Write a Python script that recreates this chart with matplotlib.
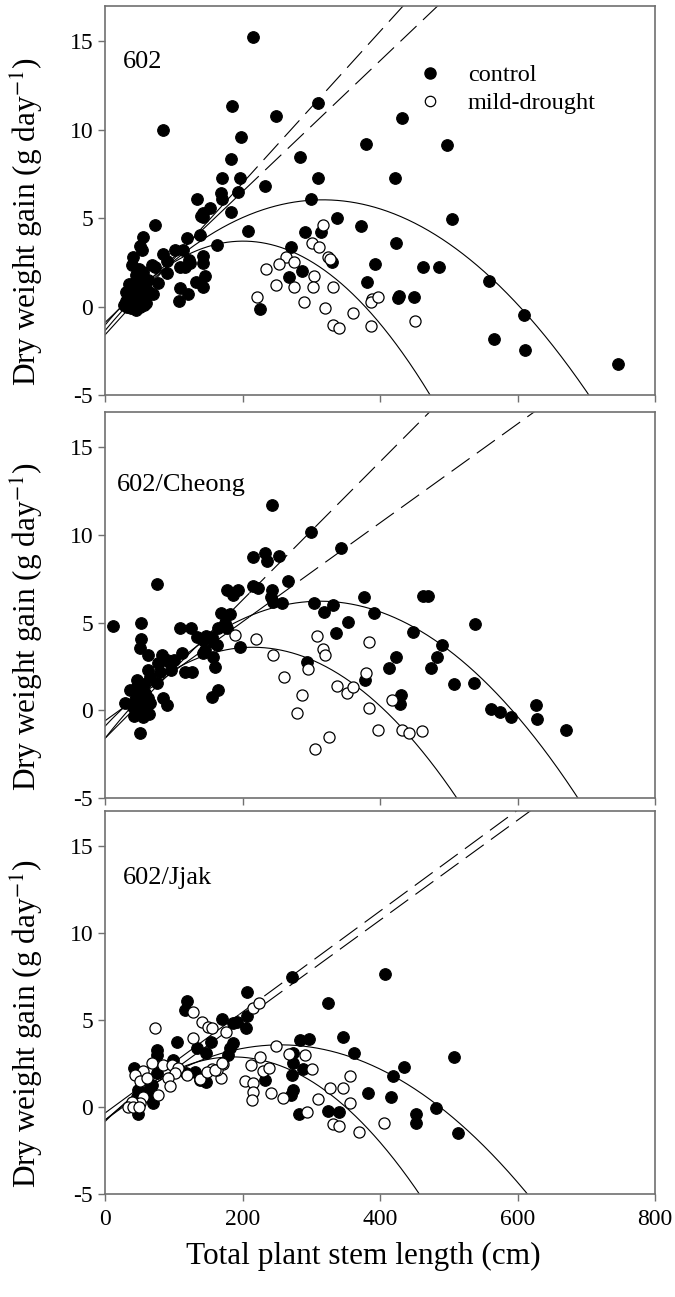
import numpy as np
import matplotlib
matplotlib.use("Agg")
import matplotlib.pyplot as plt
from matplotlib.lines import Line2D

plt.rcParams['font.family'] = ['Liberation Serif', 'DejaVu Serif']
plt.rcParams['mathtext.fontset'] = 'stix'
plt.rcParams['axes.unicode_minus'] = False

# ---- panel 602 ----
ctrl_602 = [(215, 15.25), (185, 11.35), (249, 10.8), (84, 10.0), (310, 11.5), (198, 9.6), (380, 9.2),
            (183, 8.35), (284, 8.46), (170, 7.3), (196, 7.3), (310, 7.27), (233, 6.8), (169, 6.4),
            (194, 6.5), (134, 6.1), (299, 6.1), (153, 5.6), (183, 5.35), (337, 5.0), (143, 5.07),
            (432, 10.67), (497, 9.14), (422, 7.27), (505, 4.95), (373, 4.57), (291, 4.2), (314, 4.2),
            (423, 3.6), (330, 2.5), (392, 2.4), (286, 2.0), (381, 1.4), (463, 2.24), (486, 2.24),
            (559, 1.45), (426, 0.5), (428, 0.62), (449, 0.55), (609, -0.48), (566, -1.83), (611, -2.45),
            (746, -3.25), (208, 4.28), (270, 3.37), (163, 3.48), (268, 1.67), (225, -0.14),
            (170, 6.1), (139, 5.1), (143, 5.3), (73, 4.6), (138, 4.05), (119, 3.9), (55, 3.94),
            (51, 3.4), (54, 3.2), (84, 3.0), (102, 3.2), (113, 3.2), (41, 2.8), (39, 2.35), (68, 2.35),
            (73, 2.24), (90, 2.58), (122, 2.64), (124, 2.47), (143, 2.86), (143, 2.47), (109, 2.24),
            (116, 2.24), (90, 1.9), (77, 1.33), (145, 1.73), (132, 1.4), (143, 1.1), (70, 0.7),
            (109, 1.05), (121, 0.7), (108, 0.3), (55, 1.96), (54, 1.67),
            (28, 0.1), (30, 0.3), (32, 0.0), (33, 0.6), (35, 0.2), (36, 0.9), (38, -0.1), (38, 0.4),
            (40, 1.1), (41, 0.7), (42, 0.1), (43, 1.4), (44, 0.4), (45, -0.2), (46, 0.9), (47, 0.2),
            (48, 1.2), (50, 0.5), (51, 0.0), (52, 0.8), (54, 0.3), (55, 1.0), (57, 0.1), (58, 0.6),
            (60, 0.2), (62, 0.9), (35, 1.3), (30, 0.8), (45, 1.8), (50, 2.1), (62, 1.5)]
drought_602 = [(317, 4.6), (301, 3.6), (311, 3.37), (325, 2.8), (327, 2.7), (263, 2.8), (253, 2.4),
               (275, 2.5), (234, 2.1), (304, 1.73), (248, 1.22), (275, 1.1), (303, 1.1), (331, 1.1),
               (221, 0.54), (289, 0.26), (320, -0.08), (361, -0.36), (388, 0.43), (387, 0.26),
               (397, 0.54), (331, -1.05), (340, -1.2), (387, -1.1), (451, -0.8)]

# ---- panel 602/Cheong ----
ctrl_cheong = [(243, 11.7), (300, 10.16), (343, 9.25), (215, 8.73), (233, 8.96), (235, 8.5), (253, 8.8),
               (266, 7.36), (75, 7.2), (177, 6.85), (186, 6.57), (194, 6.85), (215, 7.08), (223, 6.97),
               (243, 6.85), (241, 6.45), (244, 6.17), (257, 6.1), (304, 6.1), (319, 5.6), (332, 6.0),
               (377, 6.45), (391, 5.54), (353, 5.03), (336, 4.4), (12, 4.8), (53, 4.97), (109, 4.7),
               (125, 4.7), (169, 5.54), (182, 5.48), (165, 4.7), (175, 4.97), (177, 4.7), (134, 4.17),
               (147, 4.23), (156, 4.17), (53, 4.06), (51, 3.55), (63, 3.15), (83, 3.15), (85, 2.86),
               (77, 2.7), (95, 2.7), (100, 2.86), (112, 3.26), (143, 4.0), (145, 3.43), (157, 3.9),
               (163, 3.7), (143, 3.26), (157, 3.03), (160, 2.46), (196, 3.6), (116, 2.18), (126, 2.18),
               (90, 2.86), (96, 2.3), (63, 2.3), (65, 1.9), (80, 2.18), (75, 1.55), (36, 1.15),
               (46, 1.72), (53, 1.32), (155, 0.75), (165, 1.15), (29, 0.4), (84, 0.7), (90, 0.3),
               (51, -1.3), (463, 6.5), (470, 6.5), (538, 4.9), (448, 4.46), (490, 3.7), (423, 3.03),
               (413, 2.4), (483, 3.03), (474, 2.4), (508, 1.5), (537, 1.55), (294, 2.75), (378, 1.72),
               (431, 0.87), (429, 0.36), (561, 0.07), (575, -0.1), (591, -0.38), (627, 0.3),
               (628, -0.5), (670, -1.13),
               (40, 0.2), (42, -0.3), (44, 0.6), (45, 0.1), (47, 1.0), (48, -0.1), (50, 0.4), (52, 0.8),
               (53, 0.0), (55, -0.4), (56, 0.5), (58, 1.0), (60, 0.2), (62, 0.7), (64, -0.2), (66, 0.4),
               (46, 1.3), (57, 1.5)]
drought_cheong = [(189, 4.3), (220, 4.06), (308, 4.23), (244, 3.15), (317, 3.5), (320, 3.15), (384, 3.9),
                  (295, 2.35), (260, 1.9), (380, 2.12), (337, 1.38), (352, 0.98), (361, 1.32), (287, 0.87),
                  (384, 0.13), (279, -0.16), (397, -1.13), (326, -1.5), (305, -2.2), (418, 0.58),
                  (432, -1.13), (442, -1.3), (461, -1.2)]

# ---- panel 602/Jjak ----
ctrl_jjak = [(272, 7.46), (206, 6.6), (119, 6.08), (116, 5.57), (324, 5.97), (170, 5.05), (186, 4.82),
             (192, 4.88), (206, 5.2), (205, 4.53), (105, 3.73), (154, 3.73), (134, 3.39), (75, 3.27),
             (75, 2.98), (147, 3.1), (186, 3.67), (182, 3.39), (179, 2.98), (99, 2.7), (284, 3.85),
             (297, 3.9), (346, 4.02), (362, 3.1), (273, 3.1), (273, 2.52), (288, 2.18), (272, 1.84),
             (233, 1.55), (273, 0.97), (271, 0.69), (42, 2.24), (45, 1.95), (75, 1.95), (118, 1.95),
             (131, 2.0), (138, 1.55), (147, 1.43), (65, 1.15), (70, 0.23), (48, 0.97), (46, 0.57),
             (48, -0.4), (282, -0.4), (324, -0.23), (340, -0.29), (382, 0.8), (407, 7.64), (508, 2.87),
             (435, 2.3), (419, 1.78), (416, 0.57), (481, -0.06), (452, -0.4), (452, -0.92), (513, -1.5),
             (68, 1.26), (65, 0.97), (63, 0.57)]
drought_jjak = [(73, 4.53), (128, 5.45), (141, 4.88), (150, 4.59), (155, 4.53), (176, 4.3), (215, 5.68),
                (224, 5.97), (128, 3.96), (249, 3.5), (267, 3.04), (291, 2.98), (225, 2.87), (212, 2.4),
                (230, 2.07), (239, 2.24), (204, 1.49), (215, 1.38), (215, 0.86), (214, 0.4), (241, 0.8),
                (259, 0.51), (301, 2.18), (356, 1.78), (327, 1.09), (346, 1.09), (310, 0.46), (357, 0.23),
                (294, -0.29), (332, -0.98), (340, -1.09), (370, -1.44), (406, -0.92), (171, 2.47),
                (169, 1.66), (155, 2.18), (163, 2.12), (138, 1.6), (68, 2.52), (84, 2.4), (55, 2.07),
                (44, 1.84), (51, 1.49), (61, 1.66), (97, 2.4), (106, 2.24), (102, 1.95), (92, 1.66),
                (95, 1.2), (77, 0.69), (55, 0.57), (51, 0.23), (39, 0.29), (33, 0.0), (41, 0.0), (49, 0.0),
                (119, 1.84), (148, 2.0), (160, 2.12), (170, 2.52)]

# fitted curves: linear (a, b) and quadratic (a, b, c)
lin_602 = [(-1.6, 0.0429), (-0.9, 0.0370)]
quad_602 = [(-1.36, 0.0467, -7.37e-5), (-1.05, 0.0473, -1.177e-4)]
lin_cheong = [(-1.6, 0.0394), (-0.6, 0.0282)]
quad_cheong = [(-1.6, 0.04995, -7.98e-5), (-0.91, 0.0419, -9.75e-5)]
lin_jjak = [(-0.35, 0.0290), (-0.75, 0.0287)]
quad_jjak = [(-0.76, 0.0339, -6.64e-5), (-0.84, 0.0399, -1.0716e-4)]

panel_names = ['602', '602/Cheong', '602/Jjak']
solid_end = [200, 210, 195]

panels = [(ctrl_602, drought_602, lin_602, quad_602),
          (ctrl_cheong, drought_cheong, lin_cheong, quad_cheong),
          (ctrl_jjak, drought_jjak, lin_jjak, quad_jjak)]

fig = plt.figure(figsize=(6.75, 12.97), dpi=100)
L, W = 105 / 675, 550 / 675
boxes = [(6, 395), (412, 798), (811, 1194)]
name_pos = [(0.032, 0.885), (0.022, 0.84), (0.032, 0.855)]
spine_col = '#707070'

for i, (ctrl, dr, lins, quads) in enumerate(panels):
    top, bot = boxes[i]
    ax = fig.add_axes([L, 1 - bot / 1297, W, (bot - top) / 1297])
    xs = np.linspace(0, 800, 800)

    for a, b in lins:
        xa = xs[xs <= solid_end[i]]
        xb = xs[xs >= solid_end[i]]
        ax.plot(xa, a + b * xa, color='black', lw=0.8, zorder=1)
        ln, = ax.plot(xb, a + b * xb, color='black', lw=0.8, zorder=1)
        ln.set_dashes((20, 8))
    for a, b, c in quads:
        ax.plot(xs, a + b * xs + c * xs ** 2, color='black', lw=0.8, zorder=1)

    cx, cy = zip(*ctrl)
    dx, dy = zip(*dr)
    ax.scatter(cx, cy, s=70, c='black', edgecolors='black', lw=0.8, zorder=2)
    ax.scatter(dx, dy, s=64, facecolors='white', edgecolors='black', lw=0.9, zorder=3)

    ax.set_xlim(0, 800)
    ax.set_ylim(-5, 17)
    ax.set_xticks([0, 200, 400, 600, 800])
    ax.set_yticks([-5, 0, 5, 10, 15])
    ax.tick_params(direction='out', length=5, width=1, color=spine_col, labelsize=17)
    ax.tick_params(axis='x', pad=6)
    for sp in ax.spines.values():
        sp.set_color(spine_col)
        sp.set_linewidth(1.2)
    if i < 2:
        ax.set_xticklabels([])
    else:
        ax.set_xlabel('Total plant stem length (cm)', fontsize=22.5)
        ax.xaxis.set_label_coords(0.469, -0.125)
    ax.set_ylabel(r'Dry weight gain (g day$^{-1}$)', fontsize=22.5)
    ax.yaxis.set_label_coords(-0.108, 0.445)
    ax.text(name_pos[i][0], name_pos[i][1], panel_names[i], transform=ax.transAxes,
            fontsize=19, va='top', ha='left')

    if i == 0:
        h = [Line2D([], [], ls='', marker='o', ms=8, mfc='black', mec='black'),
             Line2D([], [], ls='', marker='o', ms=7.5, mfc='white', mec='black', mew=0.9)]
        ax.legend(h, ['control', 'mild-drought'], loc='upper left', bbox_to_anchor=(0.565, 0.85),
                  frameon=False, fontsize=17.5, handlelength=1.2, handletextpad=0.95,
                  labelspacing=0.25, borderpad=0, borderaxespad=0)

fig.savefig('out.png', dpi=100)
